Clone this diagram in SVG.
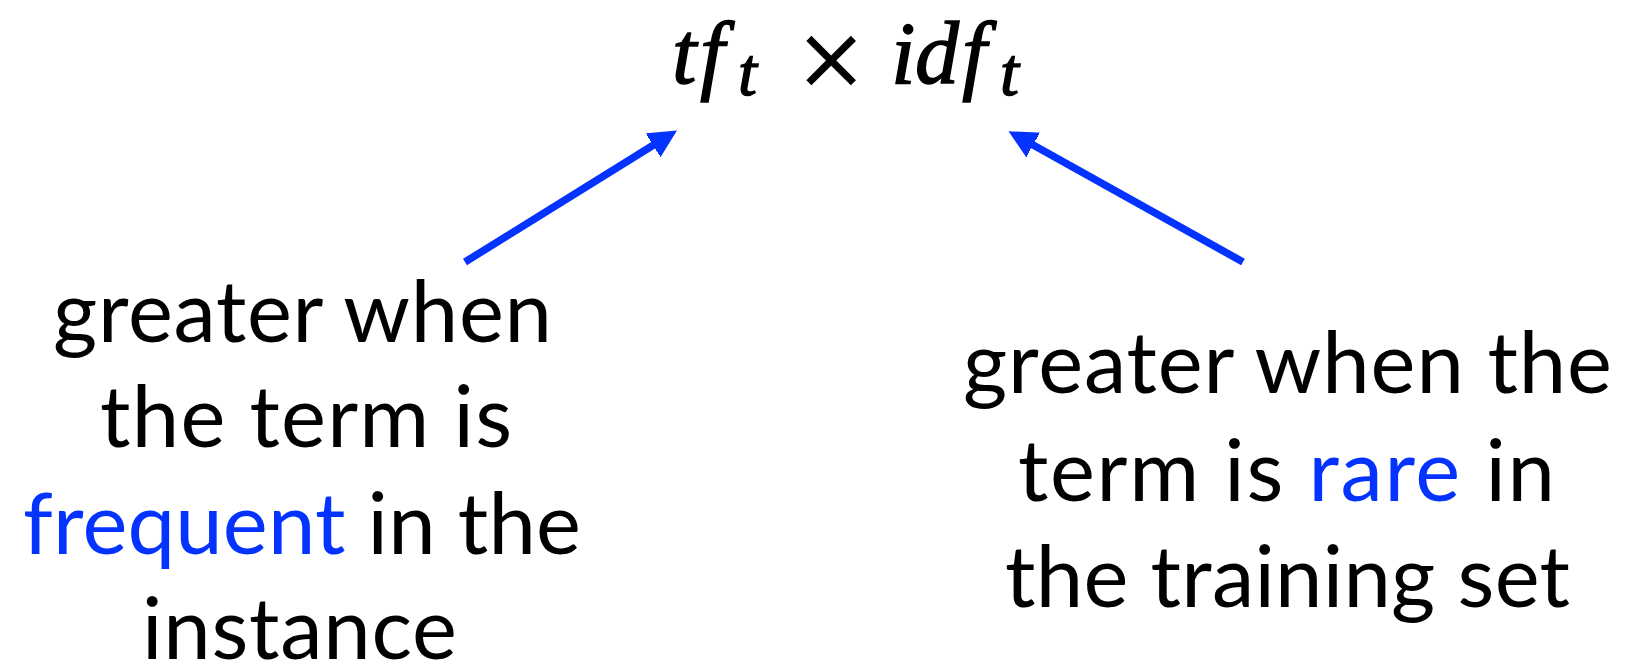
<svg xmlns="http://www.w3.org/2000/svg" width="1627" height="664" viewBox="0 0 1627 664">
<style>
.lbl{font-family:Lato,"Open Sans","Liberation Sans",sans-serif;font-size:85px;fill:#000}
.hl{fill:#0433ff}
.math{font-family:"Liberation Serif","DejaVu Serif",serif;font-style:italic;fill:#000;stroke:#000;stroke-width:1.4}
.arrow{stroke:#0433ff;stroke-width:7.5;fill:none}
</style>
<defs>
<marker id="ah" markerUnits="userSpaceOnUse" viewBox="-8 -18 36 36" refX="0" refY="0" markerWidth="36" markerHeight="36" orient="auto">
<path d="M20,0 L-14,-17 L-7,0 L-14,17 Z" fill="#0433ff"/>
</marker>
</defs>
<rect width="1627" height="664" fill="#fff"/>
<g id="formula">
<text class="math" font-size="88"><tspan x="672" y="83">t</tspan><tspan x="700" y="83">f</tspan><tspan x="738" y="95" font-size="68">t</tspan></text>
<text x="831" y="88" font-family="'DejaVu Sans','Liberation Sans',sans-serif" font-size="88" text-anchor="middle">×</text>
<text class="math" font-size="88"><tspan x="891" y="83">i</tspan><tspan x="915" y="83">d</tspan><tspan x="962" y="83">f</tspan><tspan x="1000" y="95" font-size="68">t</tspan></text>
</g>
<g id="left-label">
<text class="lbl" x="53" y="342" textLength="499">greater when</text>
<text class="lbl" x="100" y="447" textLength="412">the term is</text>
<text class="lbl" x="23" y="554" textLength="558"><tspan class="hl">frequent</tspan> in the</text>
<text class="lbl" x="142" y="659" textLength="315">instance</text>
</g>
<g id="right-label">
<text class="lbl" x="963" y="393" textLength="649">greater when the</text>
<text class="lbl" x="1018" y="501" textLength="537"><tspan>term is </tspan><tspan class="hl">rare</tspan><tspan> in</tspan></text>
<text class="lbl" x="1005" y="607" textLength="565">the training set</text>
</g>
<g id="connectors">
<line class="arrow" x1="465" y1="262" x2="660" y2="141" marker-end="url(#ah)"/>
<line class="arrow" x1="1243" y1="262" x2="1026" y2="141" marker-end="url(#ah)"/>
</g>
</svg>
